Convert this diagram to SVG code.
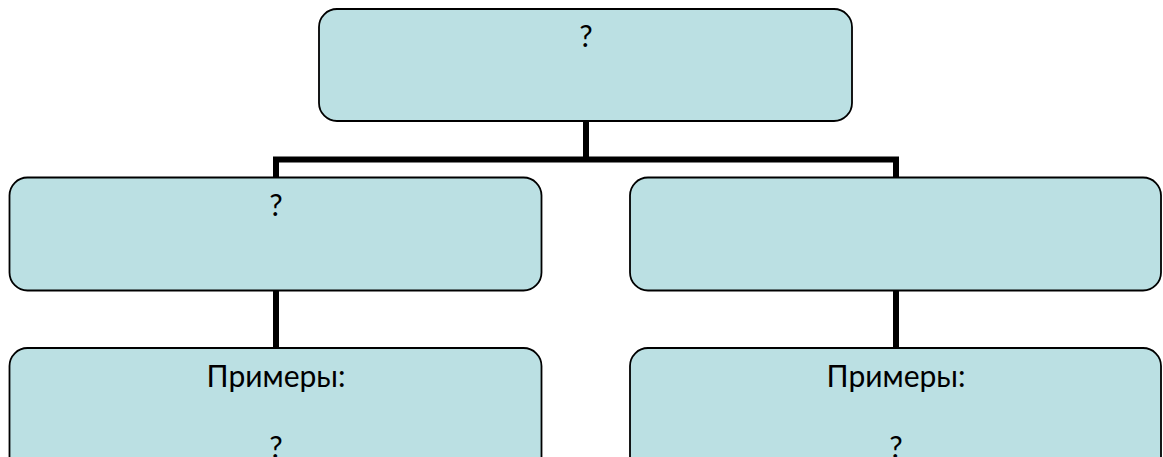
<svg xmlns="http://www.w3.org/2000/svg" width="1163" height="457" viewBox="0 0 1163 457">
<style>
.box{fill:#BBE0E3;stroke:#000;stroke-width:1.8}
.conn{fill:none;stroke:#000;stroke-width:6;stroke-linejoin:miter;stroke-linecap:butt}
text{font-family:Lato,"Open Sans","Liberation Sans",sans-serif;font-size:30px;fill:#000;text-anchor:middle}
</style>
<rect x="0" y="0" width="1163" height="457" fill="#fff"/>
<g id="connectors">
<path class="conn" d="M586,121 V159.5"/>
<path class="conn" d="M276,178 V159.5 H896 V178"/>
<path class="conn" d="M276,291 V348"/>
<path class="conn" d="M896,291 V348"/>
</g>
<g id="node-top">
<rect class="box" x="319" y="9" width="533" height="112" rx="18"/>
<text x="586" y="47">?</text>
</g>
<g id="node-left">
<rect class="box" x="9.5" y="177.5" width="532" height="113" rx="18"/>
<text x="276" y="216">?</text>
</g>
<g id="node-right">
<rect class="box" x="630" y="177.5" width="531" height="113" rx="18"/>
</g>
<g id="node-left-examples">
<rect class="box" x="9.5" y="348" width="532" height="140" rx="18"/>
<text x="276" y="387">Примеры:</text>
<text x="276" y="458">?</text>
</g>
<g id="node-right-examples">
<rect class="box" x="630" y="348" width="531" height="140" rx="18"/>
<text x="896" y="387">Примеры:</text>
<text x="896" y="458">?</text>
</g>
</svg>
